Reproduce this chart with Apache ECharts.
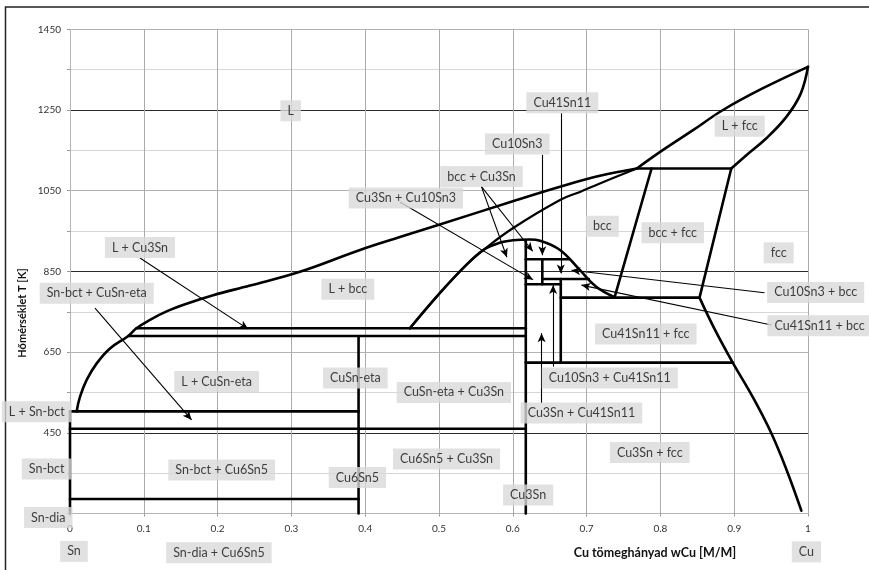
<!DOCTYPE html>
<html>
<head>
<meta charset="utf-8">
<script src="https://cdn.jsdelivr.net/npm/echarts@6/dist/echarts.min.js"></script>
<style>
html, body { margin: 0; padding: 0; background: #fff; }
#chart { width: 869px; height: 570px; }
</style>
</head>
<body>
<div id="chart"></div>
<script>
// Cu–Sn phase diagram: x = Cu mass fraction, y = temperature in K

const yTickLabels = [450, 650, 850, 1050, 1250, 1450];

// Phase boundaries, points as [wCu, T]
const liquidusSn = [[0.009, 503], [0.0135, 539], [0.0226, 581], [0.0362, 622], [0.0542, 659], [0.079, 690], [0.090, 709], [0.1084, 730], [0.1309, 751], [0.158, 770], [0.194, 791], [0.244, 815], [0.3115, 849], [0.393, 903], [0.447, 935], [0.501, 966], [0.600, 1024], [0.664, 1060], [0.718, 1087], [0.768, 1105]];
const bccSolidus = [[0.4605, 709], [0.501, 796], [0.537, 866], [0.560, 903], [0.600, 957], [0.664, 1027], [0.691, 1047], [0.718, 1068], [0.768, 1105]];
const bccDome = [[0.4605, 709], [0.501, 796], [0.537, 866], [0.560, 903], [0.582, 921], [0.600, 927], [0.623, 929], [0.637, 926], [0.664, 903], [0.691, 853], [0.713, 812], [0.738, 786]];
const liquidusCu = [[0.768, 1105], [0.8036, 1151], [0.8442, 1200], [0.8848, 1250], [0.939, 1304], [1.0, 1357]];
const solidusCu = [[0.896, 1105], [0.9165, 1138], [0.9436, 1180], [0.9707, 1233], [0.990, 1290], [1.0, 1357]];
const fccSolvus = [[0.853, 785], [0.874, 705], [0.898, 624], [0.925, 539], [0.950, 450], [0.971, 358], [0.991, 257]];
const peritectic = [[0.768, 1105], [0.896, 1105]];
const bccFccLeft = [[0.788, 1105], [0.738, 786]];
const bccFccRight = [[0.896, 1105], [0.853, 785]];
const pureSn = [[0, 250], [0, 503]];
const snMelting = [[0, 503], [0.391, 503]];
const etaTransition = [[0, 460], [0.6176, 460]];
const snDiaLine = [[0, 286], [0.391, 286]];
const cu6sn5Line = [[0.391, 250], [0.391, 688]];
const cu3snUpper = [[0.090, 709], [0.6176, 709]];
const cu3snLower = [[0.079, 690], [0.6176, 690]];
const cu3snLine = [[0.6176, 250], [0.6176, 926]];
const zetaTop = [[0.6176, 880], [0.677, 880]];
const zetaLine = [[0.640, 818], [0.640, 880]];
const zetaBcc = [[0.640, 831], [0.703, 831]];
const deltaTop = [[0.6176, 818], [0.665, 818]];
const deltaLine = [[0.665, 624], [0.665, 831]];
const eutectoid = [[0.665, 785], [0.853, 785]];
const deltaBottom = [[0.6176, 624], [0.898, 624]];

// Phase field names and where they sit [text, wCu, T]
const regionLabels = [
  ['L', 0.299, 1248],
  ['L + fcc', 0.9075, 1210],
  ['Cu41Sn11', 0.6671, 1268],
  ['Cu10Sn3', 0.6061, 1166],
  ['bcc + Cu3Sn', 0.5576, 1085],
  ['Cu3Sn + Cu10Sn3', 0.4551, 1032],
  ['bcc', 0.7213, 962],
  ['bcc + fcc', 0.8167, 946],
  ['fcc', 0.9603, 896],
  ['L + Cu3Sn', 0.0948, 909],
  ['L + bcc', 0.3765, 806],
  ['Sn-bct + CuSn-eta', 0.0362, 796],
  ['Cu10Sn3 + bcc', 1.0104, 798],
  ['Cu41Sn11 + bcc', 1.0157, 715],
  ['Cu41Sn11 + fcc', 0.7802, 695],
  ['L + CuSn-eta', 0.1987, 577],
  ['CuSn-eta', 0.3867, 586],
  ['CuSn-eta + Cu3Sn', 0.5201, 550],
  ['Cu10Sn3 + Cu41Sn11', 0.7314, 586],
  ['L + Sn-bct', -0.0451, 502],
  ['Cu3Sn + Cu41Sn11', 0.693, 499],
  ['Cu6Sn5 + Cu3Sn', 0.5102, 385],
  ['Cu3Sn + fcc', 0.7856, 401],
  ['Sn-bct', -0.0316, 360],
  ['Sn-bct + Cu6Sn5', 0.2055, 358],
  ['Cu6Sn5', 0.3894, 339],
  ['Cu3Sn', 0.6208, 296],
  ['Sn-dia', -0.0294, 240],
  ['Sn', 0.0054, 156],
  ['Sn-dia + Cu6Sn5', 0.2018, 153],
  ['Cu', 0.9978, 155]
];

// Leader arrows from a field name to its small field [wCu, T]
const arrowFrom = [[0.0948, 883], [0.0339, 759], [0.228, 184], [0.447, 1022], [0.5575, 1060], [0.5575, 1060], [0.640, 1139], [0.665, 1242], [0.941, 797], [0.9504, 717], [0.6546, 614], [0.639, 523]];
const arrowTo = [[0.2415, 707], [0.1648, 482], [0.255, 254], [0.6275, 829], [0.592, 885], [0.627, 900], [0.640, 890], [0.665, 845], [0.6795, 853], [0.693, 816], [0.6546, 816], [0.639, 697]];

const LINE_W = 2.6;
function boundary(name, pts, width) {
  return {
    name: name,
    type: 'line',
    data: pts,
    symbol: 'none',
    showSymbol: false,
    smooth: pts.length > 2 ? 0.4 : false,
    clip: false,
    silent: true,
    z: 3,
    lineStyle: { color: '#000', width: width || LINE_W, cap: 'round', join: 'round' }
  };
}

const boundarySeries = [
  boundary('liquidusSn', liquidusSn),
  boundary('bccSolidus', bccSolidus, 2.2),
  boundary('bccDome', bccDome, 2.6),
  boundary('liquidusCu', liquidusCu),
  boundary('solidusCu', solidusCu),
  boundary('fccSolvus', fccSolvus),
  boundary('peritectic', peritectic),
  boundary('bccFccLeft', bccFccLeft),
  boundary('bccFccRight', bccFccRight),
  boundary('pureSn', pureSn),
  boundary('snMelting', snMelting),
  boundary('etaTransition', etaTransition),
  boundary('snDiaLine', snDiaLine),
  boundary('cu6sn5Line', cu6sn5Line),
  boundary('cu3snUpper', cu3snUpper),
  boundary('cu3snLower', cu3snLower),
  boundary('cu3snLine', cu3snLine),
  boundary('zetaTop', zetaTop),
  boundary('zetaLine', zetaLine),
  boundary('zetaBcc', zetaBcc),
  boundary('deltaTop', deltaTop),
  boundary('deltaLine', deltaLine),
  boundary('eutectoid', eutectoid),
  boundary('deltaBottom', deltaBottom)
];

const FONT = 'Lato, "Open Sans", sans-serif';

const chart = echarts.init(document.getElementById('chart'), null, { renderer: 'canvas' });

chart.setOption({
  animation: false,
  backgroundColor: '#fff',
  grid: { left: 70, right: 61, top: 29.3, bottom: 56.5, containLabel: false },
  xAxis: {
    type: 'value',
    min: 0,
    max: 1,
    interval: 0.1,
    axisLine: { show: true, lineStyle: { color: '#b5b5b5', width: 1 } },
    axisTick: { show: true, length: 3, lineStyle: { color: '#999' } },
    axisLabel: {
      margin: 10,
      fontSize: 10,
      color: '#333',
      fontFamily: FONT,
      formatter: v => (v === 0 || v === 1) ? String(v) : v.toFixed(1)
    },
    splitLine: { show: true, lineStyle: { color: '#ababab', width: 1 } }
  },
  yAxis: {
    type: 'value',
    min: 250,
    max: 1450,
    interval: 100,
    axisLine: { show: true, lineStyle: { color: '#b5b5b5', width: 1 } },
    axisTick: { show: true, length: 3, lineStyle: { color: '#999' } },
    axisLabel: {
      margin: 9,
      fontSize: 10,
      color: '#333',
      fontFamily: FONT,
      formatter: v => yTickLabels.indexOf(Math.round(v)) >= 0 ? String(Math.round(v)) : ''
    },
    splitLine: {
      show: true,
      lineStyle: { color: ['#b3b3b3', '#d6d6d6', '#2b2b2b', '#d6d6d6'], width: 1 }
    }
  },
  graphic: [
    {
      type: 'rect',
      shape: { x: 5.5, y: 7, width: 900, height: 600 },
      style: { fill: 'none', stroke: '#222', lineWidth: 1.5 },
      silent: true,
      z: 0
    },
    {
      type: 'text',
      x: 22,
      y: 313,
      rotation: Math.PI / 2,
      style: {
        text: 'Hőmérséklet T [K]',
        font: 'bold 11px ' + FONT,
        fill: '#111',
        align: 'center',
        verticalAlign: 'middle'
      },
      silent: true
    },
    {
      type: 'text',
      x: 655,
      y: 553,
      style: {
        text: 'Cu tömeghányad wCu [M/M]',
        font: 'bold 12.5px ' + FONT,
        fill: '#111',
        align: 'center',
        verticalAlign: 'middle'
      },
      silent: true
    }
  ],
  series: boundarySeries.concat([
    {
      name: 'leaders',
      type: 'line',
      data: [],
      clip: false,
      silent: true,
      z: 4,
      markLine: {
        silent: true,
        animation: false,
        symbol: ['none', 'arrow'],
        symbolSize: [6, 9],
        label: { show: false },
        lineStyle: { color: '#000', width: 1.1, type: 'solid' },
        emphasis: { disabled: true },
        data: arrowFrom.map((p, i) => [{ coord: p }, { coord: arrowTo[i] }])
      }
    },
    {
      name: 'fields',
      type: 'scatter',
      data: regionLabels.map(r => ({ name: r[0], value: [r[1], r[2]] })),
      symbolSize: 0,
      clip: false,
      silent: true,
      z: 10,
      label: {
        show: true,
        position: 'inside',
        formatter: p => p.name,
        backgroundColor: '#d9d9d9',
        padding: [4, 7],
        color: '#111',
        fontFamily: FONT,
        fontSize: 12.5
      }
    }
  ])
});
</script>
</body>
</html>
